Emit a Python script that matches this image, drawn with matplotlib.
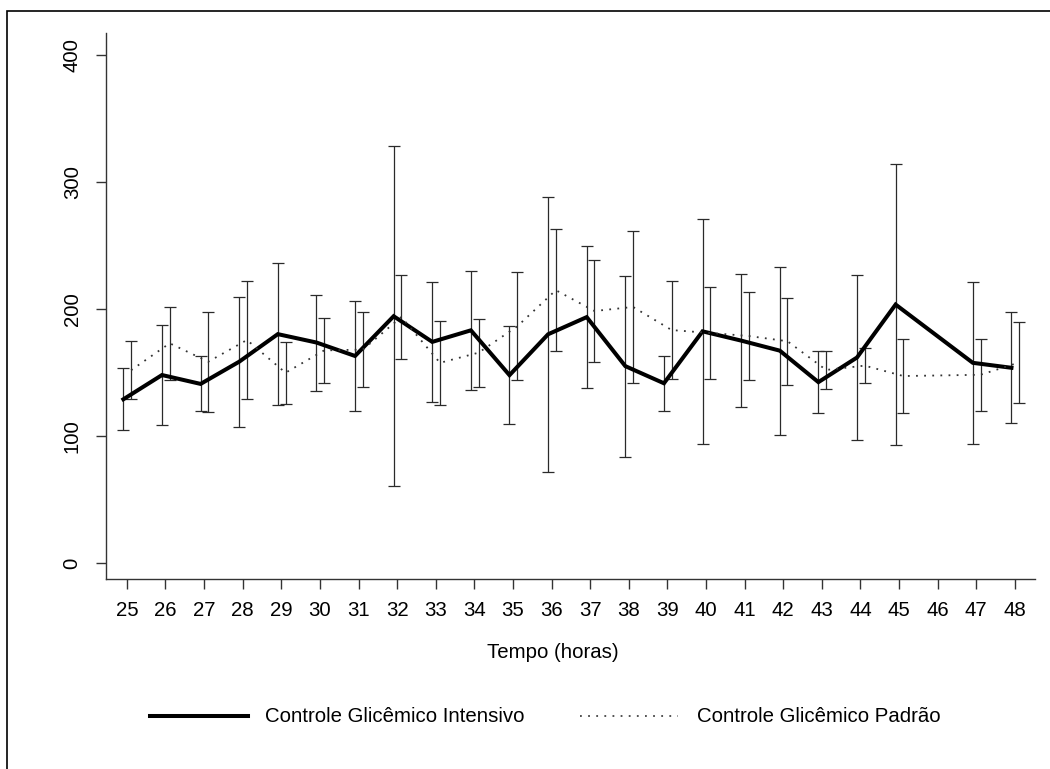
import matplotlib
matplotlib.use("Agg")
import matplotlib.pyplot as plt
from matplotlib.lines import Line2D
from matplotlib.patches import Rectangle
import numpy as np

plt.rcParams['font.family'] = ['Liberation Sans', 'DejaVu Sans']

# ---- data ----
hours = [25, 26, 27, 28, 29, 30, 31, 32, 33, 34, 35, 36, 37, 38, 39, 40, 41, 42, 43, 44, 45, 47, 48]
tick_hours = list(range(25, 49))

intensivo_mean = [128.9, 148.0, 141.0, 158.5, 180.2, 173.6, 163.0, 194.3, 174.1, 183.2, 147.9, 180.1,
                  193.6, 155.0, 141.5, 182.4, 175.1, 167.2, 142.4, 161.8, 203.5, 157.6, 153.7]
intensivo_sd = [24.3, 39.5, 21.6, 51.3, 55.8, 37.8, 43.4, 133.8, 47.4, 46.6, 38.8, 108.3,
                55.7, 71.2, 21.8, 88.4, 52.4, 66.2, 24.4, 65.3, 110.5, 64.0, 43.6]

padrao_mean = [151.8, 173.0, 158.5, 175.6, 149.8, 167.4, 168.0, 193.7, 157.6, 165.6, 186.3, 214.8,
               198.4, 201.6, 183.4, 181.1, 178.7, 174.6, 152.0, 155.4, 147.2, 148.2, 157.9]
padrao_sd = [22.9, 28.6, 39.3, 46.6, 24.5, 25.8, 29.3, 33.3, 33.2, 26.8, 42.6, 47.9,
             40.0, 60.1, 38.8, 36.2, 34.9, 34.4, 15.2, 13.9, 29.2, 28.5, 31.7]

y_ticks = [0, 100, 200, 300, 400]
label_intensivo = "Controle Glicêmico Intensivo"
label_padrao = "Controle Glicêmico Padrão"
xlabel = "Tempo (horas)"

# ---- figure ----
W, H = 1050, 769
FS = 14.7
fig = plt.figure(figsize=(W / 100, H / 100), dpi=100)
ax = fig.add_axes([106 / W, 1 - 579 / H, (1035 - 106) / W, (579 - 33) / H])

x = np.array(hours, dtype=float)
xi = x - 0.09
xp = x + 0.11

ebkw = dict(fmt='none', ecolor='#2a2a2a', elinewidth=0.9, capsize=4.3, capthick=0.9)
ax.errorbar(xi, intensivo_mean, yerr=intensivo_sd, **ebkw)
ax.errorbar(xp, padrao_mean, yerr=padrao_sd, **ebkw)

ax.plot(xi, intensivo_mean, color='black', lw=2.9, solid_joinstyle='miter')
ax.plot(xp, padrao_mean, color='#333333', lw=1.3, linestyle=(0, (1, 3.5)))

ax.set_xlim(24.46, 48.52)
ax.set_ylim(-12.6, 417.3)
ax.set_xticks(tick_hours)
ax.set_xticklabels([str(h) for h in tick_hours])
ax.set_yticks(y_ticks)
ax.set_yticklabels([str(v) for v in y_ticks], rotation=90, va='center')

for s in ['top', 'right']:
    ax.spines[s].set_visible(False)
for s in ['left', 'bottom']:
    ax.spines[s].set_color('#333333')
    ax.spines[s].set_linewidth(1.0)
ax.tick_params(axis='both', direction='out', length=7.5, width=1.0, color='#333333',
               labelsize=FS, labelcolor='black')
ax.tick_params(axis='x', pad=8.5)
ax.tick_params(axis='y', pad=10)

fig.text(553 / W, 1 - 653 / H, xlabel, ha='center', va='center', fontsize=FS)

# legend drawn manually
ly = 1 - 716 / H
fig.add_artist(Line2D([150 / W, 248 / W], [ly, ly], color='black', lw=2.9, transform=fig.transFigure))
fig.text(265 / W, ly, label_intensivo, ha='left', va='center', fontsize=FS)
fig.add_artist(Line2D([580 / W, 678 / W], [ly, ly], color='#444444', lw=1.3,
                      linestyle=(0, (1, 3.5)), transform=fig.transFigure))
fig.text(697 / W, ly, label_padrao, ha='left', va='center', fontsize=FS)

# outer border
fig.add_artist(Rectangle((7 / W, -0.1), 1.5, 1 - 11 / H + 0.1, fill=False, edgecolor='black',
                         lw=1.2, transform=fig.transFigure))

fig.savefig('out.png', dpi=100)
